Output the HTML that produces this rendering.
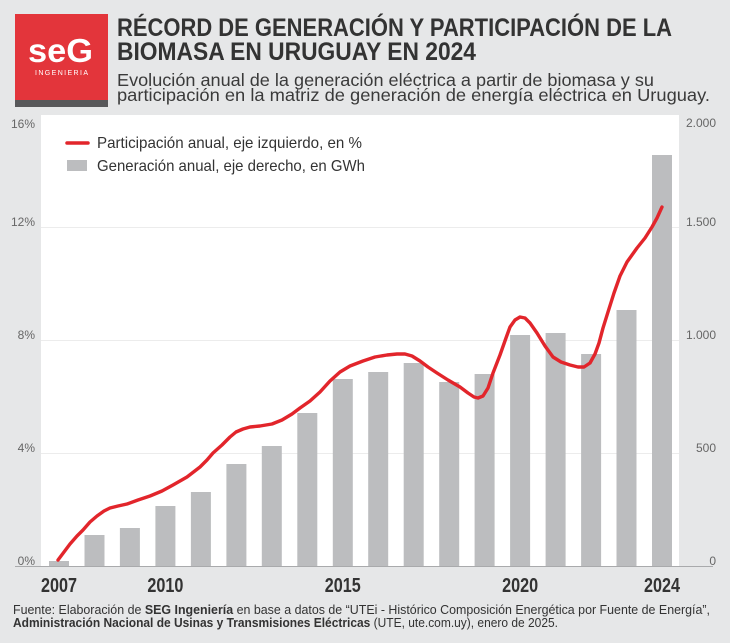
<!DOCTYPE html>
<html><head><meta charset="utf-8"><style>
html,body{margin:0;padding:0;background:#e6e7e8;}
svg{display:block;}
text{font-family:"Liberation Sans Narrow","Liberation Sans",sans-serif;}
</style></head><body>
<svg width="730" height="643" viewBox="0 0 730 643" xmlns="http://www.w3.org/2000/svg">
<rect x="0" y="0" width="730" height="643" fill="#e6e7e8"/>
<!-- logo -->
<rect x="15" y="14" width="93" height="86" fill="#e3353b"/>
<rect x="15" y="100" width="93" height="7" fill="#58585a"/>
<text x="28" y="62" font-family="Liberation Sans,sans-serif" font-weight="bold" font-size="33" fill="#fff" textLength="65" lengthAdjust="spacingAndGlyphs">seG</text>
<text x="35" y="75" font-family="Liberation Sans,sans-serif" font-size="7" fill="#fff" textLength="53" lengthAdjust="spacing">INGENIERIA</text>
<!-- title -->
<text x="117" y="36" font-weight="bold" font-size="25" fill="#333" textLength="555" lengthAdjust="spacingAndGlyphs">RÉCORD DE GENERACIÓN Y PARTICIPACIÓN DE LA</text>
<text x="117" y="60" font-weight="bold" font-size="25" fill="#333" textLength="359" lengthAdjust="spacingAndGlyphs">BIOMASA EN URUGUAY EN 2024</text>
<text x="117" y="86" font-size="17.5" fill="#3a3a3a" textLength="537" lengthAdjust="spacingAndGlyphs">Evolución anual de la generación eléctrica a partir de biomasa y su</text>
<text x="117" y="101" font-size="17.5" fill="#3a3a3a" textLength="593" lengthAdjust="spacingAndGlyphs">participación en la matriz de generación de energía eléctrica en Uruguay.</text>
<!-- plot area -->
<rect x="41" y="115" width="638" height="451" fill="#fff"/>
<g stroke="#ececec" stroke-width="1">
<line x1="41" y1="227.5" x2="679" y2="227.5"/>
<line x1="41" y1="340.5" x2="679" y2="340.5"/>
<line x1="41" y1="453.5" x2="679" y2="453.5"/>
</g>
<!-- bars -->
<g fill="#bcbdbf">
<rect x="49" y="561" width="20" height="5"/>
<rect x="84.5" y="535" width="20" height="31"/>
<rect x="119.9" y="528" width="20" height="38"/>
<rect x="155.4" y="506" width="20" height="60"/>
<rect x="190.9" y="492" width="20" height="74"/>
<rect x="226.4" y="464" width="20" height="102"/>
<rect x="261.8" y="446" width="20" height="120"/>
<rect x="297.3" y="413" width="20" height="153"/>
<rect x="332.8" y="379" width="20" height="187"/>
<rect x="368.2" y="372" width="20" height="194"/>
<rect x="403.7" y="363" width="20" height="203"/>
<rect x="439.2" y="382" width="20" height="184"/>
<rect x="474.6" y="374" width="20" height="192"/>
<rect x="510.1" y="335" width="20" height="231"/>
<rect x="545.6" y="333" width="20" height="233"/>
<rect x="581.1" y="354" width="20" height="212"/>
<rect x="616.5" y="310" width="20" height="256"/>
<rect x="652" y="155" width="20" height="411"/>
</g>
<line x1="15" y1="566.5" x2="713" y2="566.5" stroke="#a9aaac" stroke-width="1"/>
<!-- line -->
<polyline fill="none" stroke="#e2252b" stroke-width="3.4" stroke-linejoin="round" stroke-linecap="round" points="58,560 64,552 70,544 77,536 83,530 90,522 97,516 104,511 110,508 118,506 127,504 138,500 150,496 162,491 173,485 187,477 200,467 207,460 213,453 222,445 230,437 236,432 243,429 250,427 260,426 272,424 282,420 292,414 300,408 310,401 320,392 330,381 340,372 350,366 363,361 375,357 387,355 397,354 405,354 412,356 420,361 428,367 437,373 448,380 460,387 468,393 474,397 478,398 483,396 488,388 493,373 500,355 506,338 510,327 515,320 520,317 525,318 530,323 537,333 545,346 553,357 561,362 570,365 578,367 584,367 590,363 595,354 599,343 603,328 608,312 614,293 620,276 627,262 637,248 645,238 652,227 657,218 662,207"/>
<!-- legend -->
<line x1="67" y1="143" x2="88" y2="143" stroke="#e2252b" stroke-width="3.5" stroke-linecap="round"/>
<text x="97" y="148" font-size="16" fill="#333" textLength="265" lengthAdjust="spacingAndGlyphs">Participación anual, eje izquierdo, en %</text>
<rect x="67" y="160" width="20" height="11" fill="#bcbdbf"/>
<text x="97" y="171" font-size="16" fill="#333" textLength="268" lengthAdjust="spacingAndGlyphs">Generación anual, eje derecho, en GWh</text>
<!-- left axis -->
<g font-size="12" fill="#666" text-anchor="end">
<text x="35" y="128">16%</text>
<text x="35" y="226">12%</text>
<text x="35" y="339">8%</text>
<text x="35" y="452">4%</text>
<text x="35" y="565">0%</text>
</g>
<!-- right axis -->
<g font-size="12" fill="#666" text-anchor="end">
<text x="716" y="127">2.000</text>
<text x="716" y="226">1.500</text>
<text x="716" y="339">1.000</text>
<text x="716" y="452">500</text>
<text x="716" y="565">0</text>
</g>
<!-- x labels -->
<g font-size="20" font-weight="bold" fill="#333" text-anchor="middle">
<text x="59" y="592" textLength="36" lengthAdjust="spacingAndGlyphs">2007</text>
<text x="165.4" y="592" textLength="36" lengthAdjust="spacingAndGlyphs">2010</text>
<text x="342.8" y="592" textLength="36" lengthAdjust="spacingAndGlyphs">2015</text>
<text x="520.1" y="592" textLength="36" lengthAdjust="spacingAndGlyphs">2020</text>
<text x="662" y="592" textLength="36" lengthAdjust="spacingAndGlyphs">2024</text>
</g>
<!-- footer -->
<text x="13" y="614" font-size="12.5" fill="#333" textLength="697" lengthAdjust="spacingAndGlyphs">Fuente: Elaboración de <tspan font-weight="bold">SEG Ingeniería</tspan> en base a datos de “UTEi - Histórico Composición Energética por Fuente de Energía”,</text>
<text x="13" y="627" font-size="12.5" fill="#333" textLength="545" lengthAdjust="spacingAndGlyphs"><tspan font-weight="bold">Administración Nacional de Usinas y Transmisiones Eléctricas</tspan> (UTE, ute.com.uy), enero de 2025.</text>
</svg>
</body></html>
